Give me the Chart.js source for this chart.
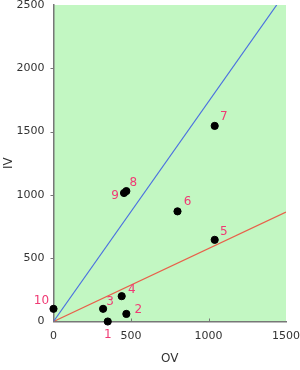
<!DOCTYPE html>
<html>
<head>
<meta charset="utf-8">
<script src="https://cdn.jsdelivr.net/npm/chart.js@4/dist/chart.umd.min.js"></script>
<style>
  html, body { margin: 0; padding: 0; background: #fff; }
  #wrap { width: 300px; height: 370px; }
</style>
</head>
<body>
<div id="wrap"><canvas id="chart" width="300" height="370"></canvas></div>
<script>
// point data
const pointLabels = ['1', '2', '3', '4', '5', '6', '7', '8', '9', '10'];
const ovValues = [350, 470, 320, 440, 1040, 800, 1040, 470, 455, 0];
const ivValues = [0, 60, 100, 200, 645, 870, 1545, 1030, 1015, 100];

// reference lines
const blueLineOV = [0, 1440];
const blueLineIV = [0, 2500];
const redLineOV = [0, 1500];
const redLineIV = [0, 865];

const xTicks = [0, 500, 1000, 1500];
const yTicks = [0, 500, 1000, 1500, 2000, 2500];

// where each number sits relative to its dot
const labelOffsets = {
    '1': [0, 13], '2': [12, -4], '3': [7, -7], '4': [10, -6], '5': [9, -8],
    '6': [10, -9], '7': [9, -9], '8': [7, -8], '9': [-9, 3], '10': [-12, -8]
};

const FONT = "'DejaVu Sans', Verdana, sans-serif";

const plotBg = {
    id: 'plotBg',
    beforeDraw(chart) {
        const { ctx, chartArea: a } = chart;
        ctx.save();
        ctx.fillStyle = '#c2f7c2';
        ctx.fillRect(a.left, a.top, a.right - a.left, a.bottom - a.top);
        ctx.restore();
    }
};

// little tick marks: x ones point into the plot, y ones stick out to the left
const tickMarks = {
    id: 'tickMarks',
    afterDatasetsDraw(chart) {
        const { ctx, chartArea: a, scales } = chart;
        ctx.save();
        ctx.strokeStyle = '#777';
        ctx.lineWidth = 1;
        ctx.beginPath();
        xTicks.slice(1, -1).forEach(v => {
            const px = Math.round(scales.x.getPixelForValue(v)) + 0.5;
            ctx.moveTo(px, a.bottom);
            ctx.lineTo(px, a.bottom - 3);
        });
        yTicks.slice(1, -1).forEach(v => {
            const py = Math.round(scales.y.getPixelForValue(v)) + 0.5;
            ctx.moveTo(a.left, py);
            ctx.lineTo(a.left - 3, py);
        });
        ctx.stroke();
        ctx.restore();
    }
};

const pointNumbers = {
    id: 'pointNumbers',
    afterDraw(chart) {
        const { ctx } = chart;
        const meta = chart.getDatasetMeta(0);
        ctx.save();
        ctx.font = '12px ' + FONT;
        ctx.fillStyle = '#f03a74';
        ctx.textAlign = 'center';
        ctx.textBaseline = 'middle';
        meta.data.forEach((el, i) => {
            const lbl = pointLabels[i];
            const off = labelOffsets[lbl] || [8, -8];
            ctx.fillText(lbl, el.x + off[0], el.y + off[1]);
        });
        ctx.restore();
    }
};

const pairs = (xs, ys) => xs.map((x, i) => ({ x: x, y: ys[i] }));

new Chart(document.getElementById('chart'), {
    type: 'scatter',
    data: {
        datasets: [
            {
                data: pairs(ovValues, ivValues),
                backgroundColor: '#000',
                borderColor: '#000',
                pointRadius: 3.6,
                pointHoverRadius: 3.6,
                clip: false,
                order: 0
            },
            {
                type: 'line',
                data: pairs(blueLineOV, blueLineIV),
                borderColor: '#4a6fe0',
                borderWidth: 1.2,
                pointRadius: 0,
                fill: false,
                order: 1
            },
            {
                type: 'line',
                data: pairs(redLineOV, redLineIV),
                borderColor: '#e8604a',
                borderWidth: 1.2,
                pointRadius: 0,
                fill: false,
                order: 1
            }
        ]
    },
    options: {
        responsive: false,
        animation: false,
        layout: { padding: { top: 5, right: 14, left: 0, bottom: 0 } },
        plugins: {
            legend: { display: false },
            tooltip: { enabled: false }
        },
        scales: {
            x: {
                type: 'linear',
                min: 0,
                max: 1500,
                afterBuildTicks: axis => { axis.ticks = xTicks.map(v => ({ value: v })); },
                afterFit: axis => { axis.height = 48.5; axis.paddingLeft = 0; axis.paddingRight = 0; },
                grid: { display: false, drawTicks: false },
                border: { display: true, color: '#777', width: 1.5 },
                ticks: { color: '#333', font: { family: FONT, size: 11 }, padding: 8, maxRotation: 0, callback: v => String(v) },
                title: { display: true, text: 'OV', color: '#333', font: { family: FONT, size: 12 }, padding: { top: 9 } }
            },
            y: {
                type: 'linear',
                min: 0,
                max: 2500,
                afterBuildTicks: axis => { axis.ticks = yTicks.map(v => ({ value: v })); },
                afterFit: axis => { axis.width = 53.5; axis.paddingTop = 0; axis.paddingBottom = 0; },
                grid: { display: false, drawTicks: false },
                border: { display: true, color: '#777', width: 1.5 },
                ticks: { color: '#333', font: { family: FONT, size: 11 }, padding: 9, callback: v => String(v) },
                title: { display: true, text: 'IV', color: '#333', font: { family: FONT, size: 12 }, padding: 2 }
            }
        }
    },
    plugins: [plotBg, tickMarks, pointNumbers]
});
</script>
</body>
</html>
